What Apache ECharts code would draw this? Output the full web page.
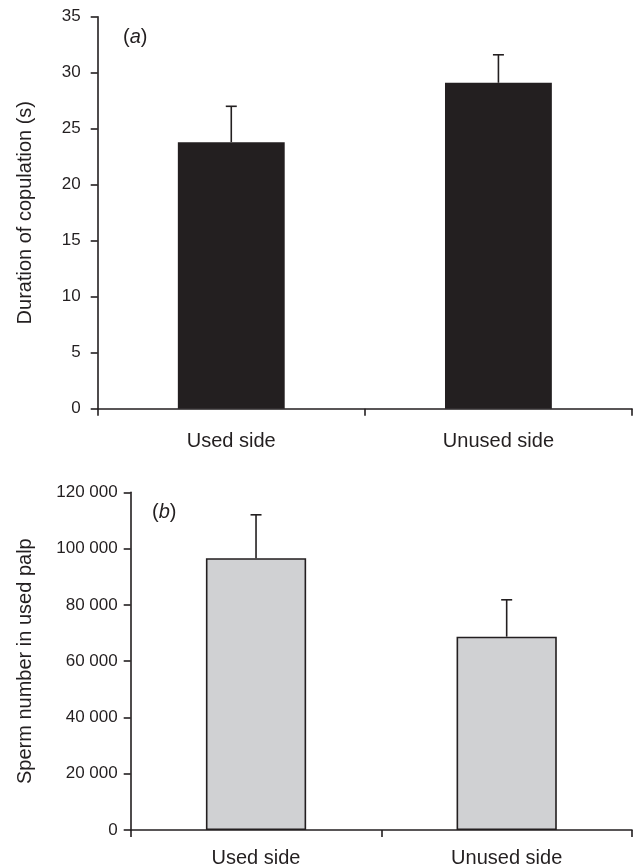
<!DOCTYPE html>
<html>
<head>
<meta charset="utf-8">
<script src="https://cdn.jsdelivr.net/npm/echarts@6/dist/echarts.min.js"></script>
<style>
html,body{margin:0;padding:0;background:#fff;}
#chart{width:641px;height:868px;}
</style>
</head>
<body>
<div id="chart"></div>
<script>
const categories = ['Used side', 'Unused side'];
const durationMeans = [23.8, 29.1];
const durationUpper = [27.0, 31.6];
const durationTicks = [0, 35, 5];
const spermMeans = [96600, 68700];
const spermUpper = [112000, 81800];
const spermTicks = [0, 120000, 20000];

const INK = '#231f20';
const FONT = '"Liberation Sans", Arial, Helvetica, sans-serif';

function fmtThousands(v) {
  const s = String(v);
  return s.length > 3 ? s.slice(0, s.length - 3) + ' ' + s.slice(s.length - 3) : s;
}

function errorRender(params, api) {
  const x = api.value(0);
  const top = api.coord([x, api.value(2)]);
  const base = api.coord([x, api.value(1)]);
  const half = 5.5;
  return {
    type: 'group',
    children: [
      { type: 'line', shape: { x1: top[0], y1: base[1], x2: top[0], y2: top[1] },
        style: { stroke: INK, lineWidth: 1.6 } },
      { type: 'line', shape: { x1: top[0] - half, y1: top[1], x2: top[0] + half, y2: top[1] },
        style: { stroke: INK, lineWidth: 1.6 } }
    ]
  };
}

const axisLineStyle = { lineStyle: { color: INK, width: 1.6 } };
const axisTickStyle = { show: true, length: 7, lineStyle: { color: INK, width: 1.6 } };

const chart = echarts.init(document.getElementById('chart'), null, { renderer: 'canvas' });
chart.setOption({
  animation: false,
  backgroundColor: '#fff',
  textStyle: { fontFamily: FONT, color: INK },
  title: [
    { text: '({i|a})', left: 118, top: 22,
      textStyle: { fontFamily: FONT, fontSize: 20, fontWeight: 'normal', color: INK,
        rich: { i: { fontFamily: FONT, fontSize: 20, fontStyle: 'italic', color: INK } } } },
    { text: '({i|b})', left: 147, top: 497,
      textStyle: { fontFamily: FONT, fontSize: 20, fontWeight: 'normal', color: INK,
        rich: { i: { fontFamily: FONT, fontSize: 20, fontStyle: 'italic', color: INK } } } }
  ],
  grid: [
    { left: 97.7, right: 9, top: 16.7, height: 392, containLabel: false },
    { left: 130.7, right: 9, top: 492.3, height: 338.4, containLabel: false }
  ],
  xAxis: [
    { type: 'category', gridIndex: 0, data: categories, boundaryGap: true,
      axisLine: axisLineStyle, axisTick: axisTickStyle,
      axisLabel: { color: INK, fontFamily: FONT, fontSize: 20, margin: 23 } },
    { type: 'category', gridIndex: 1, data: categories, boundaryGap: true,
      axisLine: axisLineStyle, axisTick: axisTickStyle,
      axisLabel: { color: INK, fontFamily: FONT, fontSize: 20, margin: 18 } }
  ],
  yAxis: [
    { type: 'value', gridIndex: 0, min: durationTicks[0], max: durationTicks[1], interval: durationTicks[2],
      name: 'Duration of copulation (s)', nameLocation: 'middle', nameGap: 62,
      nameTextStyle: { color: INK, fontFamily: FONT, fontSize: 20 },
      axisLine: Object.assign({ show: true }, axisLineStyle), axisTick: axisTickStyle,
      splitLine: { show: false },
      axisLabel: { color: INK, fontFamily: FONT, fontSize: 17, margin: 17 } },
    { type: 'value', gridIndex: 1, min: spermTicks[0], max: spermTicks[1], interval: spermTicks[2],
      name: 'Sperm number in used palp', nameLocation: 'middle', nameGap: 95,
      nameTextStyle: { color: INK, fontFamily: FONT, fontSize: 20 },
      axisLine: Object.assign({ show: true }, axisLineStyle), axisTick: axisTickStyle,
      splitLine: { show: false },
      axisLabel: { color: INK, fontFamily: FONT, fontSize: 17, margin: 13, formatter: fmtThousands } }
  ],
  series: [
    { type: 'bar', xAxisIndex: 0, yAxisIndex: 0, data: durationMeans, barWidth: '40%',
      itemStyle: { color: INK } },
    { type: 'custom', xAxisIndex: 0, yAxisIndex: 0, renderItem: errorRender, z: 3,
      data: categories.map((c, i) => [i, durationMeans[i], durationUpper[i]]) },
    { type: 'bar', xAxisIndex: 1, yAxisIndex: 1, data: spermMeans, barWidth: '40%',
      itemStyle: { color: '#d0d1d3', borderColor: INK, borderWidth: 1.6 } },
    { type: 'custom', xAxisIndex: 1, yAxisIndex: 1, renderItem: errorRender, z: 3,
      data: categories.map((c, i) => [i, spermMeans[i], spermUpper[i]]) }
  ]
});
</script>
</body>
</html>
